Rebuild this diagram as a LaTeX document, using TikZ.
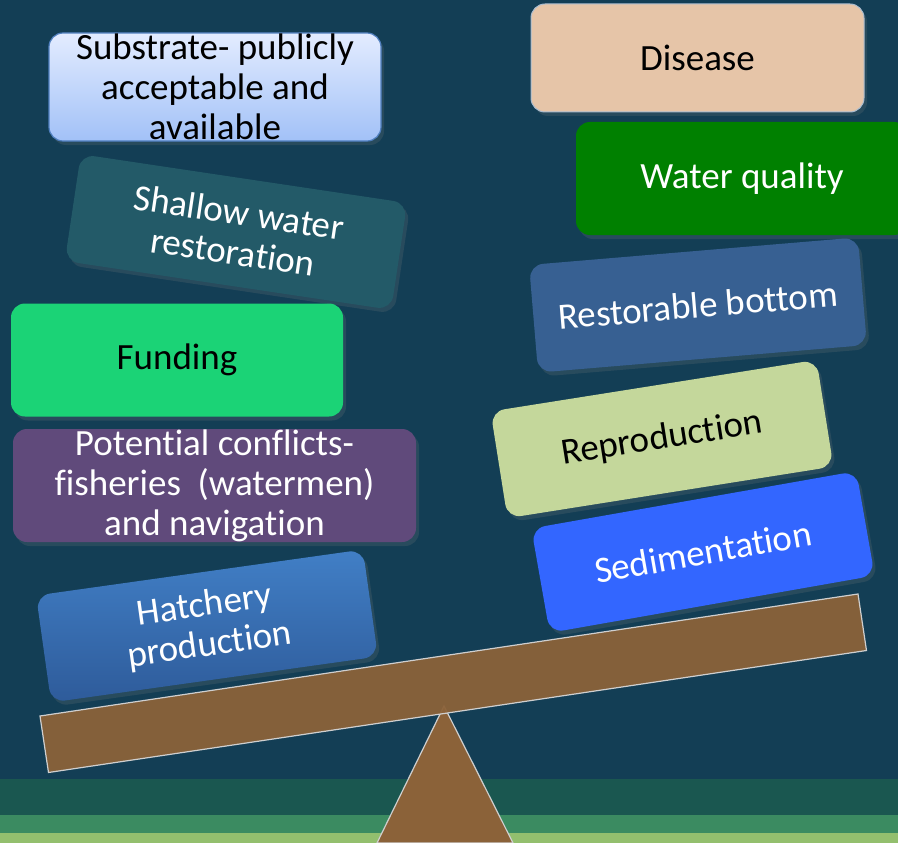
\documentclass[tikz,border=0pt]{standalone}
\usepackage{fontspec}
\setmainfont{Carlito}[Ligatures={NoCommon}]
\usetikzlibrary{shadows}

\definecolor{nightsea}{HTML}{133E55}
\definecolor{groundA}{HTML}{1A5750}
\definecolor{groundB}{HTML}{3B8B61}
\definecolor{groundC}{HTML}{93BF6E}
\definecolor{plank}{HTML}{8B6239}
\definecolor{plankrim}{HTML}{CFCFCF}
\definecolor{substrateTop}{HTML}{E3ECFF}
\definecolor{substrateBot}{HTML}{A2C1F7}
\definecolor{substrateRim}{HTML}{4F7FC0}
\definecolor{shallowfill}{HTML}{235A68}
\definecolor{fundingfill}{HTML}{1BD376}
\definecolor{conflictfill}{HTML}{604A7B}
\definecolor{hatchTop}{HTML}{417FC6}
\definecolor{hatchBot}{HTML}{2E5B9A}
\definecolor{diseasefill}{HTML}{E6C5A8}
\definecolor{diseaserim}{HTML}{A9BCCF}
\definecolor{waterfill}{HTML}{008000}
\definecolor{bottomfill}{HTML}{376092}
\definecolor{reprofill}{HTML}{C4D79B}
\definecolor{sedifill}{HTML}{3366FF}

\begin{document}
\begin{tikzpicture}[x=1pt,y=1pt]
\tikzstyle{every node}+=[inner sep=0pt, align=center, font=\fontsize{37}{40}\selectfont]
\tikzstyle{card}=[rounded corners=14pt, minimum width=330pt, minimum height=108pt,
  drop shadow={opacity=0.2, shadow xshift=3pt, shadow yshift=-4pt}]
\useasboundingbox (0,0) rectangle (898,-843);
\fill [nightsea] (0,0) rectangle (898,-843);
\fill [groundA] (0,-779) rectangle (898,-815);
\fill [groundB] (0,-815) rectangle (898,-833);
\fill [groundC] (0,-833) rectangle (898,-843);
% left pan
\node [card, top color=substrateTop, bottom color=substrateBot, draw=substrateRim, line width=1.2pt,
  minimum width=332pt, inner ysep=-6pt] (substrate) at (215,-87)
  {Substrate- publicly\\acceptable and\\available};
\node [card, fill=shallowfill, text=white, rotate=-8.5] (shallow) at (236,-232)
  {Shallow water\\restoration};
\node [card, fill=fundingfill, minimum width=332pt, minimum height=113pt] (funding) at (177,-360) {Funding};
\node [card, fill=conflictfill, text=white, minimum width=403pt, minimum height=113pt, inner ysep=-6pt]
  (conflicts) at (214.5,-485.5) {Potential conflicts-\\fisheries~ (watermen)\\and navigation};
\node [card, top color=hatchTop, bottom color=hatchBot, text=white, rotate=8] (hatchery) at (207,-626)
  {Hatchery\\production};
% right pan
\node [card, fill=diseasefill, draw=diseaserim, line width=1pt, minimum width=333pt] (disease) at (697.5,-58) {Disease};
\node [card, fill=waterfill, text=white, minimum width=332pt, minimum height=113pt] (water) at (742,-178.5) {Water quality};
\node [card, fill=bottomfill, text=white, rotate=4.8] (bottom) at (698,-305) {Restorable bottom};
\node [card, fill=reprofill, rotate=9] (repro) at (662,-439) {Reproduction};
\node [card, fill=sedifill, text=white, rotate=10, minimum height=106pt] (sedi) at (703,-552) {Sedimentation};
% seesaw
\filldraw [fill=plank, draw=plankrim, line width=1.2pt] (444,-706) -- (513,-843) -- (377,-843) -- cycle;
\filldraw [fill=plank, fill opacity=0.95, draw=plankrim, line width=1.2pt]
  (40,-716) -- (858,-594) -- (866.5,-650.5) -- (48.5,-772.5) -- cycle;
\end{tikzpicture}
\end{document}
